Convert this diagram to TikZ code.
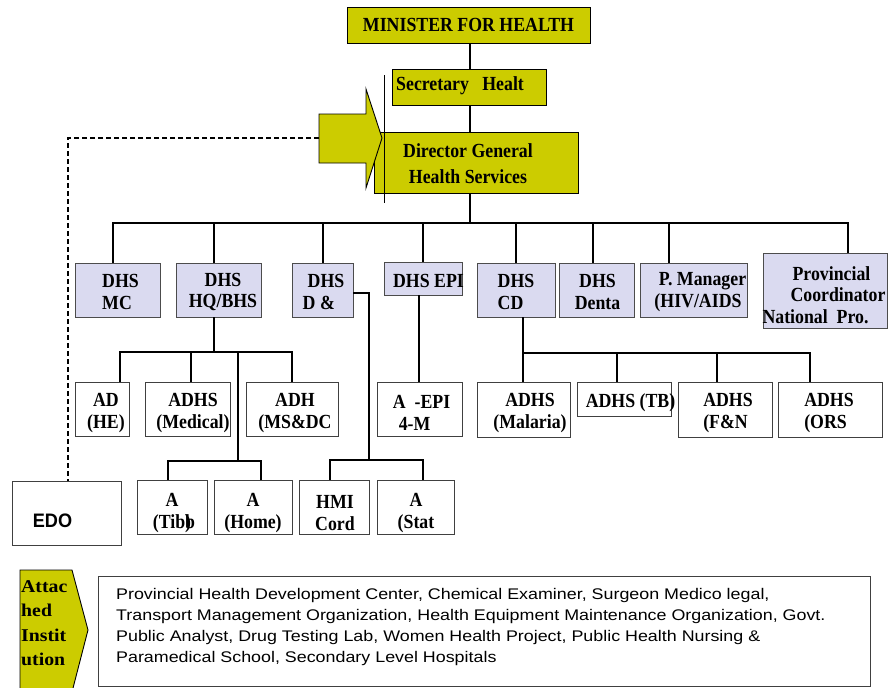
\documentclass[tikz,border=0pt]{standalone}
\usepackage{fontspec}
\setmainfont{Liberation Serif}
\newfontfamily\boxfont[FakeStretch=0.89]{Liberation Serif}
\newfontfamily\tagfont[FakeStretch=1.1]{Liberation Serif}
\newfontfamily\notefont[FakeStretch=1.16]{Liberation Sans}
\newfontfamily\edofont[FakeStretch=0.93]{Liberation Sans}
\usetikzlibrary{fit}
\definecolor{olivebox}{RGB}{204,204,0}
\definecolor{lavbox}{RGB}{218,218,240}

\tikzset{
  x=1pt, y=-1pt,
  boxbase/.style={inner sep=0pt, line width=0.9pt},
  ybox/.style={boxbase, draw=black, fill=olivebox},
  lbox/.style={boxbase, draw=black!70, fill=lavbox},
  wbox/.style={boxbase, draw=black!75, fill=white},
  lbl/.style={inner sep=0pt, font=\boxfont\bfseries\fontsize{20}{21.5}\selectfont, align=center},
  link/.style={draw=black, line width=1.1pt},
  dashlink/.style={draw=black, line width=1.6pt, dash pattern=on 5pt off 3pt},
}
% box given by its two corners (pixel grid, y downwards)
\newcommand\boxfrom[6]{\node[#2, fit={(#3,#4) (#5,#6)}] (#1) {};}

\begin{document}
\begin{tikzpicture}
\useasboundingbox (0,0) rectangle (889,688);

% ---------- top of the hierarchy
\boxfrom{min}{ybox}{347}{7}{590}{43}
\boxfrom{sec}{ybox}{392}{69}{546}{105}
\boxfrom{dg}{ybox}{374}{132}{578}{193}

% ---------- directorates
\boxfrom{mc}{lbox}{75}{263}{160}{317}
\boxfrom{hq}{lbox}{176}{263}{261}{317}
\boxfrom{dd}{lbox}{292}{263}{353}{317}
\boxfrom{epi}{lbox}{384}{262}{462}{295}
\boxfrom{cd}{lbox}{477}{263}{555}{317}
\boxfrom{den}{lbox}{559}{263}{634}{317}
\boxfrom{pm}{lbox}{640}{263}{747}{317}
\boxfrom{pv}{lbox}{763}{253}{887}{328}

% ---------- additional directors
\boxfrom{ad}{wbox}{75}{382}{129}{436}
\boxfrom{adm}{wbox}{145}{382}{230}{436}
\boxfrom{adh}{wbox}{246}{382}{338}{436}
\boxfrom{aepi}{wbox}{377}{382}{462}{436}
\boxfrom{mal}{wbox}{477}{382}{570}{437}
\boxfrom{tb}{wbox}{577}{382}{671}{416}
\boxfrom{fn}{wbox}{678}{382}{772}{437}
\boxfrom{ors}{wbox}{778}{382}{882}{437}

% ---------- assistant directors
\boxfrom{tibb}{wbox}{137}{480}{207}{534}
\boxfrom{home}{wbox}{214}{480}{292}{534}
\boxfrom{hmi}{wbox}{299}{480}{369}{534}
\boxfrom{stat}{wbox}{377}{480}{454}{534}

% ---------- district office and attached institutions
\boxfrom{edo}{wbox}{12}{481}{121}{545}
\boxfrom{note}{wbox}{98}{576}{870}{686}

% ---------- connectors
\coordinate (b2) at (470,223);
\coordinate (b3a) at (214,352);
\coordinate (b3tap) at (238,352);
\coordinate (b4a) at (238,461);
\coordinate (b4b) at (369,460);
\coordinate (b3c) at (523,353);

\draw[link] (min.south -| 470,0) -- (sec.north -| 470,0);
\draw[link] (sec.south -| 470,0) -- (dg.north -| 470,0);
\draw[link] (dg.south -| 470,0) -- (b2);
\draw[link] (mc.north -| 113,0) |- (b2) -| (pv.north -| 848,0);
\draw[link] (hq.north -| 214,0) |- (b2);
\draw[link] (dd.north -| 323,0) |- (b2);
\draw[link] (epi.north -| 423,0) |- (b2);
\draw[link] (cd.north -| 516,0) |- (b2);
\draw[link] (den.north -| 593,0) |- (b2);
\draw[link] (pm.north -| 669,0) |- (b2);

\draw[link] (hq.south -| 214,0) -- (b3a);
\draw[link] (ad.north -| 120,0) |- (b3a) -| (adh.north -| 292,0);
\draw[link] (adm.north -| 191,0) |- (b3a);
\draw[link] (b3tap) -- (b4a);
\draw[link] (tibb.north -| 168,0) |- (b4a) -| (home.north -| 261,0);

\draw[link] (dd.east |- 0,293) -| (b4b);
\draw[link] (hmi.north -| 330,0) |- (b4b) -| (stat.north -| 423,0);

\draw[link] (epi.south -| 419,0) -- (aepi.north -| 419,0);

\draw[link] (cd.south -| 523,0) -- (b3c) -| (ors.north -| 810,0);
\draw[link] (b3c) -- (mal.north -| 523,0);
\draw[link] (tb.north -| 617,0) |- (b3c);
\draw[link] (fn.north -| 717,0) |- (b3c);

% ---------- block arrow into the Director General
\coordinate (arrtail) at (319,138);
\draw[fill=olivebox, line width=0.9pt] (319,114) -- (366,114) -- (366,89) -- (382,138)
  -- (366,188) -- (366,163) -- (319,163) -- cycle;
\draw[dashlink] (arrtail) -| (edo.north -| 68,0);

\coordinate (vtop) at (384,75);
\coordinate (vbot) at (384,203);
\draw[line width=1pt] (vtop) -- (vbot);

% ---------- chevron tag
\draw[fill=olivebox, line width=0.9pt] (20,570) -- (72,570) -- (88,630) -- (72,692) -- (20,692) -- cycle;

% ---------- labels
\node[lbl] (min-t) at (468.5,25) {MINISTER FOR HEALTH};
\node[lbl, anchor=west] (sec-t) at (396,86) {Secretary\ \ \ Healt};
\node[lbl, font=\boxfont\bfseries\fontsize{20}{26}\selectfont] (dg-t) at (468,164) {Director General\\Health Services};

\node[lbl, align=left] (mc-t) at (120.5,292) {DHS\\MC};
\node[lbl] (hq-t) at (223,292) {DHS\\HQ/BHS};
\node[lbl, align=left] (dd-t) at (323.5,292) {\hspace*{5pt}DHS\\D \&};
\node[lbl] (epi-t) at (428.5,281) {DHS EPI};
\node[lbl, align=left] (cd-t) at (516,292) {DHS\\CD};
\node[lbl] (den-t) at (597.5,292) {DHS\\Denta};
\node[lbl] (pm-t) at (698,292) {\hspace*{9pt}P. Manager\\(HIV/AIDS};
\node[lbl, align=left] (pv-t) at (824,295) {\hspace*{30pt}Provincial\\\hspace*{28pt}Coordinator\\National\ \ Pro.};

\node[lbl] (ad-t) at (106,413) {AD\\(HE)};
\node[lbl] (adm-t) at (193,413) {ADHS\\(Medical)};
\node[lbl] (adh-t) at (295,413) {ADH\\(MS\&DC};
\node[lbl, align=left] (aepi-t) at (421.5,413) {A\ \ -EPI\\\hspace*{6pt}4-M};
\node[lbl] (mal-t) at (530,413) {ADHS\\(Malaria)};
\node[lbl] (tb-t) at (630.5,403) {ADHS (TB)};
\node[lbl, align=left] (fn-t) at (728,413) {ADHS\\(F\&N};
\node[lbl, align=left] (ors-t) at (829,413) {ADHS\\(ORS};

\node[lbl] (tibb-t) at (172,513) {A\\(Tib\rlap{b})};
\node[lbl] (home-t) at (253,513) {A\\(Home)};
\node[lbl] (hmi-t) at (335,513) {HMI\\Cord};
\node[lbl] (stat-t) at (416,513) {A\\(Stat};

\node[inner sep=0pt, font=\edofont\bfseries\fontsize{19.5}{20}\selectfont] (edo-t) at (52.5,521) {EDO};

\node[inner sep=0pt, anchor=north west, align=left,
      font=\tagfont\bfseries\fontsize{18}{24.5}\selectfont] (att-t) at (21,580) {Attac\\hed\\Instit\\ution};

\node[inner sep=0pt, anchor=north west, align=left,
      font=\notefont\fontsize{15.4}{21}\selectfont] (note-t) at (116,588)
  {Provincial Health Development Center, Chemical Examiner, Surgeon Medico legal,\\
   Transport Management Organization, Health Equipment Maintenance Organization, Govt.\\
   Public Analyst, Drug Testing Lab, Women Health Project, Public Health Nursing \&\\
   Paramedical School, Secondary Level Hospitals};
\end{tikzpicture}
\end{document}
